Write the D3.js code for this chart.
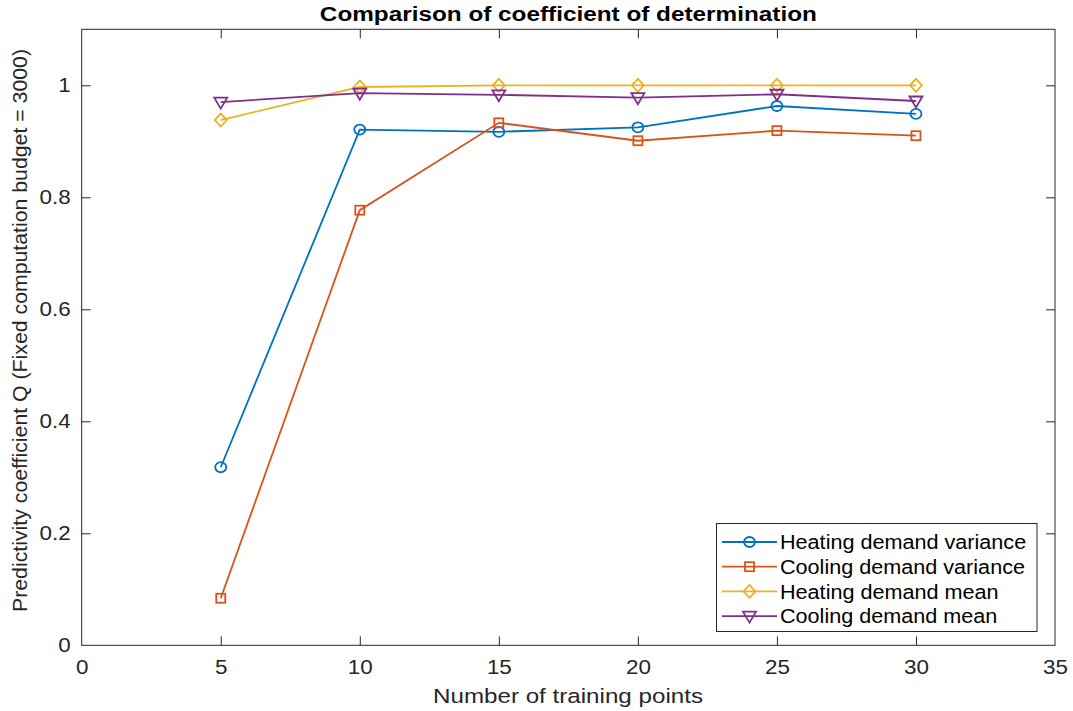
<!DOCTYPE html>
<html><head><meta charset="utf-8">
<script src="https://cdn.jsdelivr.net/npm/d3@7"></script>
<style>body{margin:0;background:#fff}svg{display:block}text{font-family:"Liberation Sans",Arial,sans-serif}</style>
</head><body>
<svg id="c" width="1073" height="711"></svg>
<script>
const xValues = [5, 10, 15, 20, 25, 30];
const heatingVariance = [0.318, 0.921, 0.917, 0.925, 0.963, 0.949];
const coolingVariance = [0.084, 0.777, 0.933, 0.901, 0.919, 0.910];
const heatingMean = [0.938, 0.997, 1.0, 1.0, 1.0, 1.0];
const coolingMean = [0.970, 0.986, 0.983, 0.978, 0.984, 0.972];
const seriesNames = ["Heating demand variance", "Cooling demand variance", "Heating demand mean", "Cooling demand mean"];
const xTicks = [0, 5, 10, 15, 20, 25, 30, 35];
const yTicks = [0, 0.2, 0.4, 0.6, 0.8, 1];

const colors = ["#0072BD", "#D95319", "#EDB120", "#7E2F8E"];
const markers = ["circle", "square", "diamond", "triangleDown"];
const allSeries = [heatingVariance, coolingVariance, heatingMean, coolingMean];

const svg = d3.select("#c");
const L = 81.7, R = 1055, T = 29.3, B = 645.3;
const x = d3.scaleLinear().domain([0, 35]).range([L, R]);
const y = d3.scaleLinear().domain([0, 1.1]).range([B, T]);
const axisColor = "#262626";

function stretch(sel, f) {
  sel.each(function () {
    const w = this.getComputedTextLength();
    d3.select(this).attr("textLength", w * f).attr("lengthAdjust", "spacingAndGlyphs");
  });
}

svg.append("rect").attr("x", L).attr("y", T).attr("width", R - L).attr("height", B - T)
  .attr("fill", "none").attr("stroke", axisColor).attr("stroke-width", 1);

const tl = 9;
const gx = svg.append("g").attr("transform", `translate(0,${B})`)
  .call(d3.axisBottom(x).tickValues(xTicks).tickSizeInner(-tl).tickSizeOuter(0).tickPadding(15).tickFormat(d3.format("d")));
const gxt = svg.append("g").attr("transform", `translate(0,${T})`)
  .call(d3.axisTop(x).tickValues(xTicks).tickSizeInner(-tl).tickSizeOuter(0).tickFormat(""));
const gy = svg.append("g").attr("transform", `translate(${L},0)`)
  .call(d3.axisLeft(y).tickValues(yTicks).tickSizeInner(-tl).tickSizeOuter(0).tickPadding(11).tickFormat(d => d === 0 ? "0" : d === 1 ? "1" : d3.format(".1f")(d)));
const gyr = svg.append("g").attr("transform", `translate(${R},0)`)
  .call(d3.axisRight(y).tickValues(yTicks).tickSizeInner(-tl).tickSizeOuter(0).tickFormat(""));
[gx, gxt, gy, gyr].forEach(g => {
  g.select(".domain").remove();
  g.selectAll("line").attr("stroke", axisColor);
  g.selectAll("text").attr("fill", axisColor).style("font-size", "20px").style("font-family", '"Liberation Sans",Arial,sans-serif');
});
stretch(gx.selectAll("text"), 1.12);
stretch(gy.selectAll("text"), 1.12);
gx.selectAll(".tick").filter(d => d === 0 || d === 35).select("line").remove();
gxt.selectAll(".tick").filter(d => d === 0 || d === 35).select("line").remove();
gy.selectAll(".tick").filter(d => d === 0).select("line").remove();
gyr.selectAll(".tick").filter(d => d === 0).select("line").remove();

function drawMarker(g, type, cx, cy) {
  if (type === "circle") g.append("ellipse").attr("cx", cx).attr("cy", cy).attr("rx", 5.5).attr("ry", 5);
  else if (type === "square") g.append("rect").attr("x", cx - 4.5).attr("y", cy - 4.5).attr("width", 9).attr("height", 9);
  else if (type === "diamond") g.append("path").attr("d", `M${cx},${cy - 6.5}L${cx + 6},${cy}L${cx},${cy + 6.5}L${cx - 6},${cy}Z`);
  else g.append("path").attr("d", `M${cx - 6.5},${cy - 4.5}L${cx + 6.5},${cy - 4.5}L${cx},${cy + 6.5}Z`);
}

const line = d3.line().x((d, i) => x(xValues[i])).y(d => y(d));
allSeries.forEach((s, k) => {
  const g = svg.append("g").attr("fill", "none").attr("stroke", colors[k]).attr("stroke-width", 1.8);
  g.append("path").attr("d", line(s));
  s.forEach((v, i) => drawMarker(g, markers[k], x(xValues[i]), y(v)));
});

const lg = svg.append("g");
lg.append("rect").attr("x", 716.5).attr("y", 523.5).attr("width", 320.5).attr("height", 108)
  .attr("fill", "#fff").attr("stroke", axisColor).attr("stroke-width", 1);
seriesNames.forEach((n, k) => {
  const yy = 542 + k * 24.7;
  const g = lg.append("g").attr("fill", "none").attr("stroke", colors[k]).attr("stroke-width", 1.8);
  g.append("line").attr("x1", 722).attr("x2", 777).attr("y1", yy).attr("y2", yy);
  drawMarker(g, markers[k], 749.5, yy);
  const t = lg.append("text").attr("x", 780).attr("y", yy).attr("dy", "0.36em").attr("fill", "#000")
    .style("font-size", "20px").text(n);
  stretch(t, 1.08);
});

const title = svg.append("text").attr("x", (L + R) / 2).attr("y", 21).attr("text-anchor", "middle")
  .style("font-size", "19.5px").style("font-weight", "bold").attr("fill", "#000")
  .text("Comparison of coefficient of determination");
title.attr("textLength", 497).attr("lengthAdjust", "spacingAndGlyphs");
const xl = svg.append("text").attr("x", 568).attr("y", 703).attr("text-anchor", "middle")
  .style("font-size", "20.5px").attr("fill", axisColor).text("Number of training points");
xl.attr("textLength", 270).attr("lengthAdjust", "spacingAndGlyphs");
const yl = svg.append("text").attr("transform", `translate(26.5,330.5) rotate(-90)`).attr("text-anchor", "middle")
  .style("font-size", "20.3px").attr("fill", axisColor).text("Predictivity coefficient Q (Fixed computation budget = 3000)");
yl.attr("textLength", 563).attr("lengthAdjust", "spacingAndGlyphs");
</script>
</body></html>
